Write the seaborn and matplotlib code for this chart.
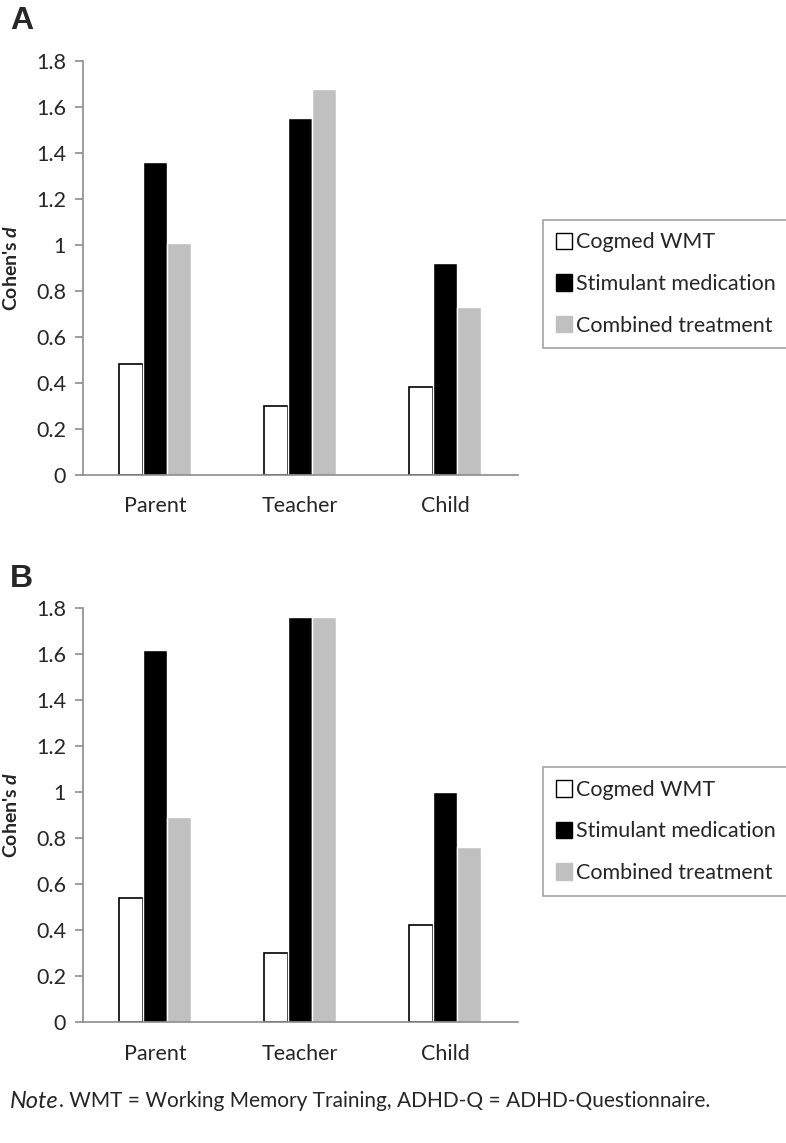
import pandas as pd
import matplotlib
matplotlib.use("Agg")
import matplotlib.pyplot as plt
from matplotlib.patches import Patch
import seaborn as sns

# Data
raters = ["Parent", "Teacher", "Child"]
treatments = ["Cogmed WMT", "Stimulant medication", "Combined treatment"]
panel_a_cogmed = [0.48, 0.30, 0.38]
panel_a_stim = [1.36, 1.55, 0.92]
panel_a_comb = [1.01, 1.68, 0.73]
panel_b_cogmed = [0.54, 0.30, 0.42]
panel_b_stim = [1.62, 1.76, 1.00]
panel_b_comb = [0.89, 1.76, 0.76]
y_ticks = [0, 0.2, 0.4, 0.6, 0.8, 1.0, 1.2, 1.4, 1.6, 1.8]
y_tick_labels = ["0", "0.2", "0.4", "0.6", "0.8", "1", "1.2", "1.4", "1.6", "1.8"]

colors = ["white", "black", "#c0c0c0"]
spine_col = "#8c8c8c"


def make_df(cog, stim, comb):
    rows = []
    for vals, t in zip([cog, stim, comb], treatments):
        for r, v in zip(raters, vals):
            rows.append({"Rater": r, "Treatment": t, "d": v})
    return pd.DataFrame(rows)


sns.set_style("white")
plt.rcParams["font.family"] = ["Lato", "DejaVu Sans"]
plt.rcParams["mathtext.fontset"] = "custom"
plt.rcParams["mathtext.bfit"] = "Lato:bold:italic"
plt.rcParams["mathtext.it"] = "Lato:italic"
plt.rcParams["mathtext.bf"] = "Lato:bold"

fig = plt.figure(figsize=(7.86, 11.43), dpi=100)
W, H = 786, 1143

panels = [
    ("A", make_df(panel_a_cogmed, panel_a_stim, panel_a_comb), 474.7, 6),
    ("B", make_df(panel_b_cogmed, panel_b_stim, panel_b_comb), 1022, 564),
]

for letter, df, y0, label_y in panels:
    ax = fig.add_axes([82.7 / W, (H - y0) / H, 435 / W, 413.7 / H])
    sns.barplot(data=df, x="Rater", y="d", hue="Treatment", order=raters,
                hue_order=treatments, palette=colors, width=0.5, gap=0,
                saturation=1, legend=False, ax=ax)
    for bar in ax.containers[0]:
        bar.set_edgecolor("black")
        bar.set_linewidth(1.2)
    ax.set_xlim(-0.5, 2.5)
    ax.set_ylim(0, 1.8)
    ax.set_yticks(y_ticks)
    ax.set_yticklabels(y_tick_labels)
    ax.set_xlabel("")
    ax.set_ylabel(r"Cohen's $\boldsymbol{d}$", fontsize=14, fontweight="bold")
    ax.yaxis.set_label_coords(-0.145, 0.5)
    for s in ["top", "right"]:
        ax.spines[s].set_visible(False)
    for s in ["left", "bottom"]:
        ax.spines[s].set_color(spine_col)
        ax.spines[s].set_linewidth(1.2)
    ax.tick_params(axis="y", left=True, length=6, width=1.2, color=spine_col,
                   labelsize=15.5, pad=6)
    ax.tick_params(axis="x", bottom=False, labelsize=15.5, pad=12)

    handles = [Patch(facecolor=c, edgecolor="black" if c == "white" else c,
                     linewidth=1.0) for c in colors]
    leg = ax.legend(handles, treatments, loc="center left",
                    bbox_to_anchor=(543 / W, 1 - (y0 - 190.7) / H),
                    bbox_transform=fig.transFigure, fontsize=15.5,
                    frameon=True, fancybox=False, handlelength=0.75,
                    handleheight=0.8, handletextpad=0.2, labelspacing=1.0,
                    borderpad=0.6, borderaxespad=0)
    leg.get_frame().set_edgecolor(spine_col)
    leg.get_frame().set_linewidth(1.2)

    fig.text(10 / W, 1 - label_y / H, letter, fontsize=23, fontweight="bold",
             family="Liberation Sans", va="top", ha="left")

# Note text at the bottom
note_y = 1 - 1101 / H
t1 = fig.text(10 / W, note_y, "Note", fontsize=17, style="italic",
              va="center", ha="left")
fig.canvas.draw()
bb = t1.get_window_extent(fig.canvas.get_renderer())
fig.text(bb.x1 / W, note_y, ". WMT = Working Memory Training, ADHD-Q = ADHD-Questionnaire.",
         fontsize=15, va="center", ha="left")

fig.savefig("out.png", dpi=100)
